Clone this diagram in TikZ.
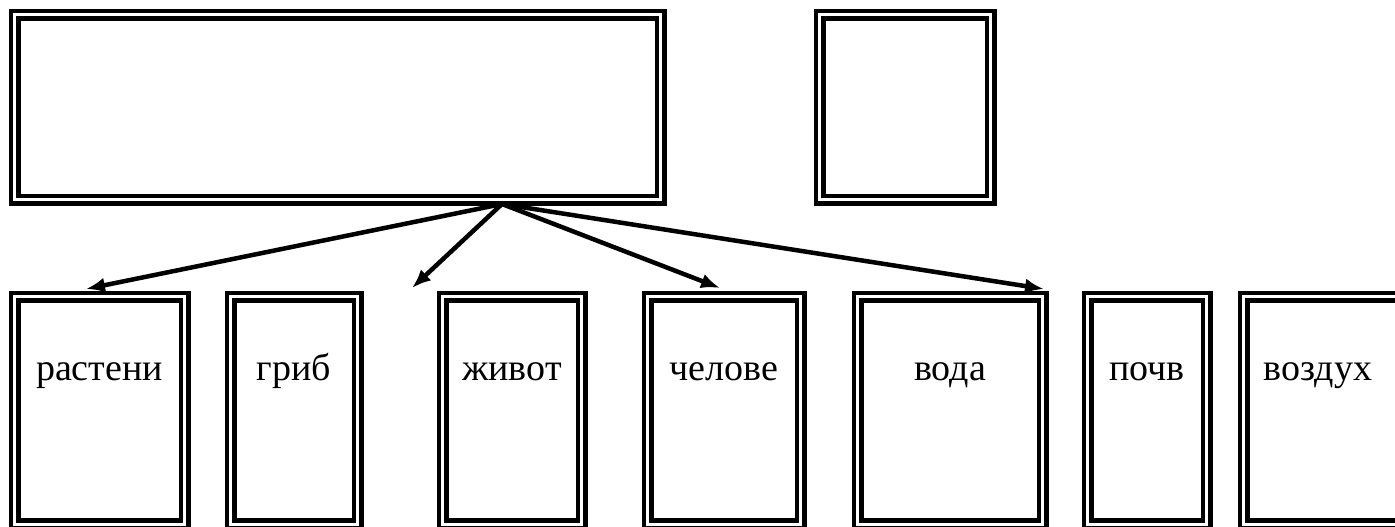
\documentclass[tikz,border=0pt]{standalone}
\usepackage{fontspec}
\setmainfont{Liberation Serif}
\usetikzlibrary{arrows.meta}

\begin{document}
\begin{tikzpicture}[x=0.5pt, y=-0.5pt]
\tikzset{ >={Latex[length=9.5pt,width=7.5pt]}, inner sep=0pt, outer sep=0pt,
  box/.style={draw, double, line width=2.25pt, double distance=1.5pt, rectangle},
  word/.style={anchor=base, font=\fontsize{19pt}{23pt}\selectfont},
  link/.style={->, line width=2.25pt},
}

\useasboundingbox (0,0) rectangle (1395,526);

%\draw [lightgray, dashed](0,0) grid[step=100] (1395,526);

% top row
\node [box, minimum width=323pt,  minimum height=92.5pt] (Top)  at (337.5,107) {};
\node [box, minimum width=85.5pt, minimum height=92.5pt] (Side) at (905,107) {};

% bottom row
\node [box, minimum width=85pt,    minimum height=113.75pt] (Plant)  at (99.5,410.25)    {};
\node [box, minimum width=63.5pt,  minimum height=113.75pt] (Fungus) at (294,410.25)     {};
\node [box, minimum width=69.5pt,  minimum height=113.75pt] (Animal) at (512,410.25)     {};
\node [box, minimum width=76.5pt,  minimum height=113.75pt] (Human)  at (724,410.25)     {};
\node [box, minimum width=92.5pt,  minimum height=113.75pt] (Water)  at (950,410.25)     {};
\node [box, minimum width=59.5pt,  minimum height=113.75pt] (Soil)   at (1147,410.25)    {};
\node [box, minimum width=79.25pt, minimum height=113.75pt] (Air)    at (1322.75,410.25) {};

\node [word] (tPlant)  at (99.5,380)  {растени};
\node [word] (tFungus) at (294,380)   {гриб};
\node [word] (tAnimal) at (512,380)   {живот};
\node [word] (tHuman)  at (724,380)   {челове};
\node [word] (tWater)  at (950,380)   {вода};
\node [word] (tSoil)   at (1147,380)  {почв};
\node [word] (tAir)    at (1318,380)  {воздух};

% arrows
\coordinate (hub) at (502,204);
\coordinate (aPlant) at (86,289);
\coordinate (aGap)   at (412,288);
\coordinate (aHuman) at (720,288);
\coordinate (aWater) at (1044,289);

\draw [link] (hub) -- (aPlant);
\draw [link] (hub) -- (aGap);
\draw [link] (hub) -- (aHuman);
\draw [link] (hub) -- (aWater);

\end{tikzpicture}
\end{document}
